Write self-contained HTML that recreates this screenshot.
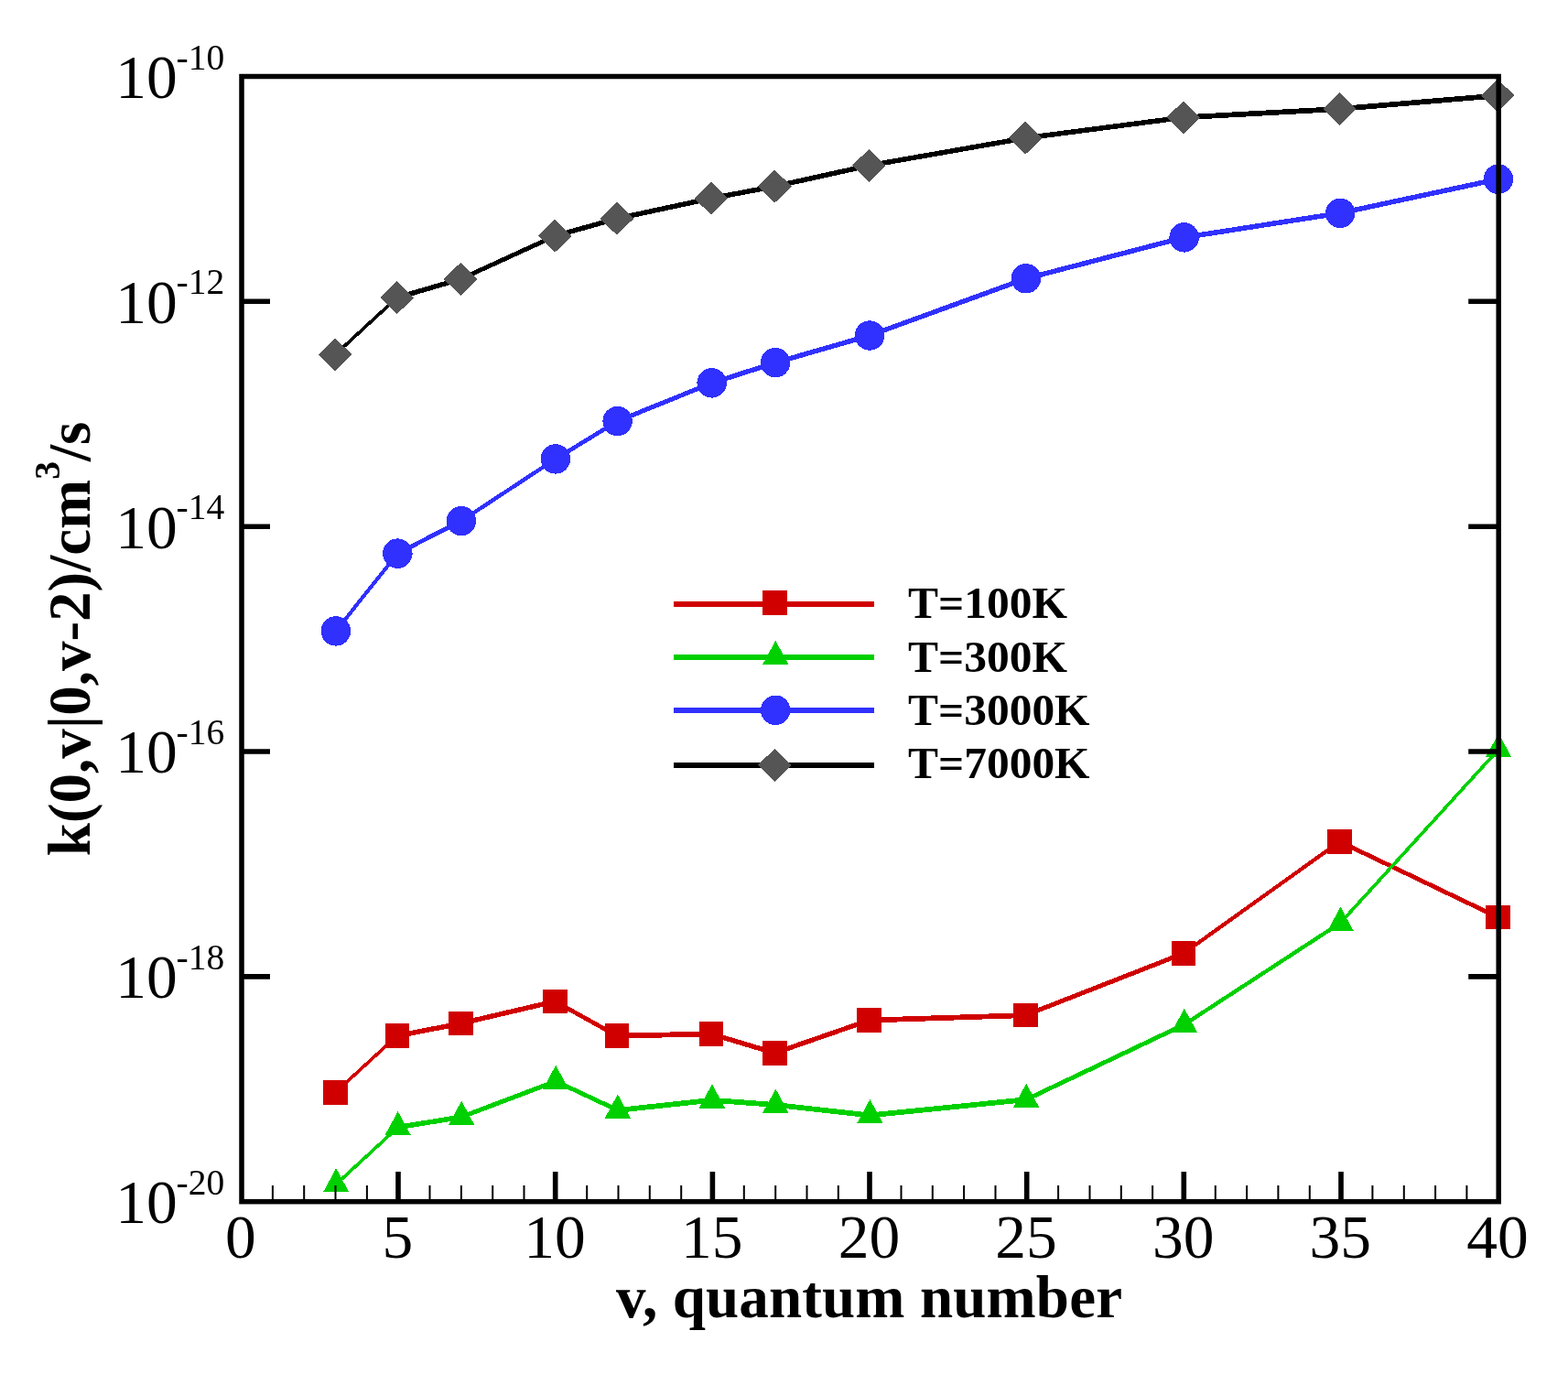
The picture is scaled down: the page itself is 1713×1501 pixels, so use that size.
<!DOCTYPE html>
<html lang="en"><head><meta charset="utf-8"><title>k(0,v|0,v-2) vs v, quantum number</title>
<style>
html,body{margin:0;padding:0;background:#fff;}
body{width:1713px;height:1501px;overflow:hidden;}
svg{display:block;}
text{font-family:"Liberation Serif",serif;fill:#000;}
.tk{font-size:67.5px;}
.sp{font-size:39.5px;}
.ti{font-size:65px;font-weight:bold;}
.lg{font-size:48.5px;font-weight:bold;}
</style></head><body>
<svg width="1713" height="1501" viewBox="0 0 1713 1501">
<rect width="1713" height="1501" fill="#fff"/>
<g shape-rendering="crispEdges">
<path d="M366.3 1191L433.8 1129.1L433.8 1134.1L366.3 1196ZM433.8 1128.8L503.3 1115.3L503.3 1120.9L433.8 1134.4ZM503.3 1115.3L606.3 1091.1L606.3 1096.7L503.3 1120.9ZM606.3 1091.2L674 1128.9L674 1134.3L606.3 1096.6ZM674 1128.7L777 1126.6L777 1132.4L674 1134.5ZM777 1126.7L846.5 1147.5L846.5 1153.1L777 1132.3ZM846.5 1147.5L949.5 1111.8L949.5 1117.4L846.5 1153.1ZM949.5 1111.7L1120.3 1106.2L1120.3 1112L949.5 1117.5ZM1120.3 1106.4L1293 1038.8L1293 1044.2L1120.3 1111.8ZM1293 1038.9L1463.6 916.8L1463.6 922L1293 1044.1ZM1463.6 916.7L1636.3 999.3L1636.3 1004.7L1463.6 922.1Z" fill="#d00000"/>
<g fill="#d00000">
<rect x="353.1" y="1180.3" width="26.4" height="26.4"/>
<rect x="420.6" y="1118.4" width="26.4" height="26.4"/>
<rect x="490.1" y="1104.9" width="26.4" height="26.4"/>
<rect x="593.1" y="1080.7" width="26.4" height="26.4"/>
<rect x="660.8" y="1118.4" width="26.4" height="26.4"/>
<rect x="763.8" y="1116.3" width="26.4" height="26.4"/>
<rect x="833.3" y="1137.1" width="26.4" height="26.4"/>
<rect x="936.3" y="1101.4" width="26.4" height="26.4"/>
<rect x="1107.1" y="1095.9" width="26.4" height="26.4"/>
<rect x="1279.8" y="1028.3" width="26.4" height="26.4"/>
<rect x="1450.4" y="906.2" width="26.4" height="26.4"/>
<rect x="1623.1" y="988.8" width="26.4" height="26.4"/>
</g>
<path d="M367.2 1291.2L434.7 1229L434.7 1234L367.2 1296.2ZM434.7 1228.7L504.2 1217.4L504.2 1223L434.7 1234.3ZM504.2 1217.5L607.2 1178.5L607.2 1183.9L504.2 1222.9ZM607.2 1178.5L674.9 1210.2L674.9 1215.6L607.2 1183.9ZM674.9 1210L777.9 1198.9L777.9 1204.7L674.9 1215.8ZM777.9 1198.9L847.4 1204.1L847.4 1209.9L777.9 1204.7ZM847.4 1204.1L950.4 1215.5L950.4 1221.3L847.4 1209.9ZM950.4 1215.5L1121.2 1198.3L1121.2 1204.1L950.4 1221.3ZM1121.2 1198.5L1293.9 1116.5L1293.9 1121.9L1121.2 1203.9ZM1293.9 1116.6L1464.5 1005.5L1464.5 1010.7L1293.9 1121.8ZM1462 1008.1L1634.7 818.6L1639.7 818.6L1467 1008.1Z" fill="#00d000"/>
<g fill="#00d000">
<polygon points="367.2,1276.2 381.4,1302.4 353,1302.4"/>
<polygon points="434.7,1214 448.9,1240.2 420.5,1240.2"/>
<polygon points="504.2,1202.7 518.4,1228.9 490,1228.9"/>
<polygon points="607.2,1163.7 621.4,1189.9 593,1189.9"/>
<polygon points="674.9,1195.4 689.1,1221.6 660.7,1221.6"/>
<polygon points="777.9,1184.3 792.1,1210.5 763.7,1210.5"/>
<polygon points="847.4,1189.5 861.6,1215.7 833.2,1215.7"/>
<polygon points="950.4,1200.9 964.6,1227.1 936.2,1227.1"/>
<polygon points="1121.2,1183.7 1135.4,1209.9 1107,1209.9"/>
<polygon points="1293.9,1101.7 1308.1,1127.9 1279.7,1127.9"/>
<polygon points="1464.5,990.6 1478.7,1016.8 1450.3,1016.8"/>
<polygon points="1637.2,801.1 1651.4,827.3 1623,827.3"/>
</g>
<path d="M364.3 689.4L431.8 604.6L437 604.6L369.5 689.4ZM434.4 601.9L503.9 566.4L503.9 571.8L434.4 607.3ZM503.9 566.5L606.9 498.8L606.9 504L503.9 571.7ZM606.9 498.7L674.6 457.4L674.6 462.8L606.9 504.1ZM674.6 457.4L777.6 415.7L777.6 421.1L674.6 462.8ZM777.6 415.6L847.1 393.4L847.1 399L777.6 421.2ZM847.1 393.4L950.1 363.7L950.1 369.3L847.1 399ZM950.1 363.7L1120.9 301.5L1120.9 307.1L950.1 369.3ZM1120.9 301.5L1293.6 256.6L1293.6 262.2L1120.9 307.1ZM1293.6 256.6L1464.2 230L1464.2 235.6L1293.6 262.2ZM1464.2 230L1636.9 192.9L1636.9 198.5L1464.2 235.6Z" fill="#3030ff"/>
<g fill="#3030ff">
<circle cx="366.9" cy="689.4" r="16.2"/>
<circle cx="434.4" cy="604.6" r="16.2"/>
<circle cx="503.9" cy="569.1" r="16.2"/>
<circle cx="606.9" cy="501.4" r="16.2"/>
<circle cx="674.6" cy="460.1" r="16.2"/>
<circle cx="777.6" cy="418.4" r="16.2"/>
<circle cx="847.1" cy="396.2" r="16.2"/>
<circle cx="950.1" cy="366.5" r="16.2"/>
<circle cx="1120.9" cy="304.3" r="16.2"/>
<circle cx="1293.6" cy="259.4" r="16.2"/>
<circle cx="1464.2" cy="232.8" r="16.2"/>
<circle cx="1636.9" cy="195.7" r="16.2"/>
</g>
<path d="M366.2 384.9L433.7 322.7L433.7 327.7L366.2 389.9ZM433.7 322.4L503.2 302.1L503.2 307.7L433.7 328ZM503.2 302.2L606.2 255.1L606.2 260.5L503.2 307.6ZM606.2 255L673.9 236L673.9 241.6L606.2 260.6ZM673.9 236L776.9 213.9L776.9 219.5L673.9 241.6ZM776.9 213.9L846.4 200.8L846.4 206.4L776.9 219.5ZM846.4 200.8L949.4 178L949.4 183.6L846.4 206.4ZM949.4 178L1120.2 148L1120.2 153.6L949.4 183.6ZM1120.2 148L1292.9 125.5L1292.9 131.1L1120.2 153.6ZM1292.9 125.4L1463.5 116.1L1463.5 121.9L1292.9 131.2ZM1463.5 116.1L1636.2 101.5L1636.2 107.3L1463.5 121.9Z" fill="#000"/>
<g fill="#555555">
<polygon points="366.2,369.4 384.6,387.4 366.2,405.4 347.8,387.4"/>
<polygon points="433.7,307.2 452.1,325.2 433.7,343.2 415.3,325.2"/>
<polygon points="503.2,286.9 521.6,304.9 503.2,322.9 484.8,304.9"/>
<polygon points="606.2,239.8 624.6,257.8 606.2,275.8 587.8,257.8"/>
<polygon points="673.9,220.8 692.3,238.8 673.9,256.8 655.5,238.8"/>
<polygon points="776.9,198.7 795.3,216.7 776.9,234.7 758.5,216.7"/>
<polygon points="846.4,185.6 864.8,203.6 846.4,221.6 828,203.6"/>
<polygon points="949.4,162.8 967.8,180.8 949.4,198.8 931,180.8"/>
<polygon points="1120.2,132.8 1138.6,150.8 1120.2,168.8 1101.8,150.8"/>
<polygon points="1292.9,110.3 1311.3,128.3 1292.9,146.3 1274.5,128.3"/>
<polygon points="1463.5,101 1481.9,119 1463.5,137 1445.1,119"/>
<polygon points="1636.2,86.4 1654.6,104.4 1636.2,122.4 1617.8,104.4"/>
</g>
</g>
<g stroke="#000" fill="none">
<rect x="264" y="83.5" width="1373.2" height="1229.2" stroke-width="5.5"/>
<path d="M297.9 1312.7V1295M332.2 1312.7V1295M366.5 1312.7V1295M400.9 1312.7V1295M469.5 1312.7V1295M503.9 1312.7V1295M538.2 1312.7V1295M572.5 1312.7V1295M641.2 1312.7V1295M675.5 1312.7V1295M709.8 1312.7V1295M744.2 1312.7V1295M812.8 1312.7V1295M847.2 1312.7V1295M881.5 1312.7V1295M915.8 1312.7V1295M984.5 1312.7V1295M1018.8 1312.7V1295M1053.1 1312.7V1295M1087.5 1312.7V1295M1156.1 1312.7V1295M1190.5 1312.7V1295M1224.8 1312.7V1295M1259.1 1312.7V1295M1327.8 1312.7V1295M1362.1 1312.7V1295M1396.4 1312.7V1295M1430.8 1312.7V1295M1499.4 1312.7V1295M1533.8 1312.7V1295M1568.1 1312.7V1295M1602.4 1312.7V1295" stroke-width="2"/>
<path d="M435 1312.7V1280M606.7 1312.7V1280M778.4 1312.7V1280M950 1312.7V1280M1121.7 1312.7V1280M1293.3 1312.7V1280M1465 1312.7V1280M264 329.3H295M1637.2 329.3H1604.2M264 575.2H295M1637.2 575.2H1604.2M264 821H295M1637.2 821H1604.2M264 1066.9H295M1637.2 1066.9H1604.2" stroke-width="5.6"/>
</g>
<g class="tk" text-anchor="middle">
<text x="262.8" y="1373.6">0</text>
<text x="434.4" y="1373.6">5</text>
<text x="606.1" y="1373.6">10</text>
<text x="777.8" y="1373.6">15</text>
<text x="949.4" y="1373.6">20</text>
<text x="1121" y="1373.6">25</text>
<text x="1292.7" y="1373.6">30</text>
<text x="1464.3" y="1373.6">35</text>
<text x="1636" y="1373.6">40</text>
</g>
<text class="tk" x="126.3" y="106.8">10</text><text class="sp" x="192.5" y="75.6">-10</text>
<text class="tk" x="126.3" y="352.6">10</text><text class="sp" x="192.5" y="321.4">-12</text>
<text class="tk" x="126.3" y="598.5">10</text><text class="sp" x="192.5" y="567.3">-14</text>
<text class="tk" x="126.3" y="844.3">10</text><text class="sp" x="192.5" y="813.1">-16</text>
<text class="tk" x="126.3" y="1090.2">10</text><text class="sp" x="192.5" y="1059">-18</text>
<text class="tk" x="126.3" y="1336">10</text><text class="sp" x="192.5" y="1304.8">-20</text>
<text class="ti" x="673" y="1438.8" textLength="553">v, quantum number</text>
<text class="ti" transform="translate(98.2 935.2) rotate(-90)"><tspan>k(0,v|0,v-2)/cm</tspan><tspan class="sp" dy="-32.8" style="font-weight:bold">3</tspan><tspan dy="32.8">/s</tspan></text>
<g shape-rendering="crispEdges">
<path d="M736 659.8H955.3" stroke="#d00000" stroke-width="5.8" fill="none"/>
<g fill="#d00000"><rect x="833.2" y="645.3" width="26.4" height="26.4"/></g>
<path d="M736 717.9H955.3" stroke="#00d000" stroke-width="5.8" fill="none"/>
<g fill="#00d000"><polygon points="847.3,699.8 861.5,726 833.1,726"/></g>
<path d="M736 775.9H955.3" stroke="#3030ff" stroke-width="5.8" fill="none"/>
<g fill="#3030ff"><circle cx="847.2" cy="775.8" r="16.2"/></g>
<path d="M736 836H955.3" stroke="#000" stroke-width="5.8" fill="none"/>
<g fill="#555555"><polygon points="846.3,817.9 864.7,835.9 846.3,853.9 827.9,835.9"/></g>
</g>
<text class="lg" x="992" y="675.3" textLength="174" lengthAdjust="spacingAndGlyphs">T=100K</text>
<text class="lg" x="992" y="733.5" textLength="174" lengthAdjust="spacingAndGlyphs">T=300K</text>
<text class="lg" x="992" y="791.7" textLength="198.6" lengthAdjust="spacingAndGlyphs">T=3000K</text>
<text class="lg" x="992" y="849.9" textLength="198.6" lengthAdjust="spacingAndGlyphs">T=7000K</text>
</svg></body></html>
